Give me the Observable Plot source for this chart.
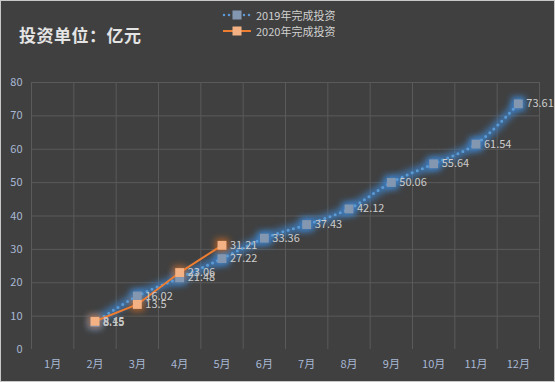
<!DOCTYPE html>
<html><head><meta charset="utf-8">
<script src="https://cdn.jsdelivr.net/npm/d3@7"></script>
<script src="https://cdn.jsdelivr.net/npm/@observablehq/plot@0.6"></script>
<style>
html,body{margin:0;padding:0;background:#404040;}
#wrap{position:relative;width:555px;height:382px;box-sizing:border-box;background:#404040;overflow:hidden;}
#border{position:absolute;left:0;top:0;width:555px;height:382px;box-sizing:border-box;border:1px solid #c8c8c8;pointer-events:none;}
#title{position:absolute;left:19px;top:22px;font-family:"Noto Sans CJK SC";font-weight:bold;font-size:17px;color:#e4e4e4;letter-spacing:0.5px;}
.leg{position:absolute;left:222px;font-family:"Noto Sans CJK SC","Noto Sans";font-size:11px;color:#d0d0d0;display:flex;align-items:center;}
.leg svg{margin-right:4px;}
#chart{position:absolute;left:0;top:0;}
.glowed{filter:url(#glowB);mix-blend-mode:normal !important;}
</style></head>
<body><div id="wrap"><div id="chart"></div>
<div id="title">投资单位：亿元</div>
<div class="leg" style="top:7px"><svg width="30" height="12"><line x1="2" y1="6" x2="28" y2="6" stroke="#5b9bd5" stroke-width="2.5" stroke-dasharray="0 5" stroke-linecap="round"/><rect x="10.5" y="1.5" width="9" height="9" fill="#8497b0"/></svg><span>2019年完成投资</span></div>
<div class="leg" style="top:23px"><svg width="30" height="12"><line x1="1" y1="6" x2="29" y2="6" stroke="#ed7d31" stroke-width="2"/><rect x="10.5" y="1.5" width="9" height="9" fill="#f4b183"/></svg><span>2020年完成投资</span></div>
<div id="border"></div></div>
<script>
const months = ["1月","2月","3月","4月","5月","6月","7月","8月","9月","10月","11月","12月"];
const months2019 = ["2月","3月","4月","5月","6月","7月","8月","9月","10月","11月","12月"];
const values2019 = [8.15,16.02,21.48,27.22,33.36,37.43,42.12,50.06,55.64,61.54,73.61];
const months2020 = ["2月","3月","4月","5月"];
const values2020 = [8.45,13.5,23.06,31.21];
const yTicks = [0,10,20,30,40,50,60,70,80];

const idx = m => months.indexOf(m) + 1;
const d19 = months2019.map((m,i)=>({x:idx(m), y:values2019[i], label:String(values2019[i])}));
const d20 = months2020.map((m,i)=>({x:idx(m), y:values2020[i], label:String(values2020[i])}));
const edges = d3.range(0, months.length + 1).map(i => i + 0.5);
const font = "'Noto Sans CJK SC', 'Noto Sans', sans-serif";

const chart = Plot.plot({
  width: 555, height: 382,
  marginLeft: 31, marginRight: 16, marginTop: 82, marginBottom: 33,
  style: {background: "transparent", fontFamily: font, fontSize: "11px"},
  x: {type: "linear", domain: [0.5, 12.5], axis: null},
  y: {domain: [0, 80], axis: null},
  marks: [
    Plot.ruleY(yTicks.filter(d => d > 0), {stroke: "#5a5a5a", strokeWidth: 1}),
    Plot.ruleX(edges, {y1: 0, y2: 80, stroke: "#5a5a5a", strokeWidth: 1}),
    Plot.text(yTicks, {x: 0.5, y: d => d, text: d => String(d), dx: -9, textAnchor: "end", fill: "#a8b8d4", fontSize: 11}),
    Plot.text(months, {x: (d,i) => i + 1, y: 0, text: d => d, dy: 15, fill: "#a8b8d4", fontSize: 11}),
    // glows
    Plot.line(d19, {x: "x", y: "y", stroke: "#3f82c8", strokeWidth: 9, strokeOpacity: 0.75, curve: "catmull-rom", mixBlendMode: "multiply"}),
    Plot.dot(d19, {x: "x", y: "y", symbol: "square", r: 8, fill: "#3f82c8", fillOpacity: 0.9, mixBlendMode: "multiply"}),
    Plot.dot(d20, {x: "x", y: "y", symbol: "square", r: 7.5, fill: "#b86428", fillOpacity: 0.9, mixBlendMode: "multiply"}),
    // 2019 series
    Plot.line(d19, {x: "x", y: "y", stroke: "#5b9bd5", strokeWidth: 3, strokeDasharray: "0 5.5", strokeLinecap: "round", curve: "catmull-rom"}),
    Plot.dot(d19, {x: "x", y: "y", symbol: "square", r: 5, fill: "#8497b0"}),
    // 2020 series
    Plot.line(d20, {x: "x", y: "y", stroke: "#ed7d31", strokeWidth: 2}),
    Plot.dot(d20, {x: "x", y: "y", symbol: "square", r: 5, fill: "#f4b183"}),
    // labels
    Plot.text(d19, {x: "x", y: "y", text: "label", dx: 8, textAnchor: "start", fill: "#cccccc", fontSize: 11}),
    Plot.text(d20, {x: "x", y: "y", text: "label", dx: 8, textAnchor: "start", fill: "#cccccc", fontSize: 11})
  ]
});
const NS = "http://www.w3.org/2000/svg";
const defs = document.createElementNS(NS, "defs");
const filt = document.createElementNS(NS, "filter");
filt.setAttribute("id", "glowB");
filt.setAttribute("x", "-50%"); filt.setAttribute("y", "-50%");
filt.setAttribute("width", "200%"); filt.setAttribute("height", "200%");
const blur = document.createElementNS(NS, "feGaussianBlur");
blur.setAttribute("stdDeviation", "3");
filt.appendChild(blur); defs.appendChild(filt);
chart.insertBefore(defs, chart.firstChild);
chart.querySelectorAll("*").forEach(el => {
  const s = el.getAttribute("style") || "";
  if (s.includes("mix-blend-mode") || el.hasAttribute("mix-blend-mode")) el.classList.add("glowed");
});
document.getElementById("chart").appendChild(chart);
</script></body></html>
